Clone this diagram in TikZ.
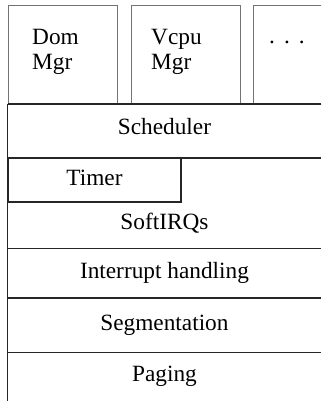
\documentclass[tikz,border=0pt]{standalone}
\usepackage{fontspec}
\setmainfont{Liberation Serif}
\begin{document}
\begin{tikzpicture}[
    x=1pt,y=-1pt,
    every node/.style={font=\fontsize{23.3}{25}\selectfont, inner sep=0pt},
    module/.style={draw=black!55, line width=1.1pt, minimum width=109pt, minimum height=99pt, anchor=north west},
    layer/.style={minimum width=313.5pt, text height=0.66em, text depth=0pt, anchor=north west},
    low/.style={text height=1.05em},
    edge/.style={draw=black!85, line width=1.5pt}
]
    \useasboundingbox (0,0) rectangle (321,401);
    \clip (0,0) rectangle (321,401);

    % modules on top
    \node[module] (dom) at (8,5) {};
    \node[module] (vcpu) at (131,5) {};
    \node[module] (more) at (253,5) {};
    \node[anchor=west, align=left] (domtxt) at ([xshift=24pt, yshift=3.5pt]dom.west) {Dom\\Mgr};
    \node[anchor=west, align=left] (vcputxt) at ([xshift=20pt, yshift=3.5pt]vcpu.west) {Vcpu\\Mgr};
    \node[anchor=base] (dots) at (287,44) {.\kern0.39em.\kern0.39em.};

    % layers
    \node[layer, minimum height=53.5pt] (sched) at (7.5,104) {Scheduler};
    \node[layer, low, minimum width=172.5pt, minimum height=43.5pt, edge] (timer) at (7.5,157.5) {Timer};
    \node[layer, low, minimum height=47pt] (softirq) at (7.5,201) {SoftIRQs};
    \node[layer, low, minimum height=49.5pt] (irq) at (7.5,248) {Interrupt handling};
    \node[layer, low, minimum height=54.5pt] (seg) at (7.5,297.5) {Segmentation};
    \node[layer, low, minimum height=49pt] (paging) at (7.5,352) {Paging};

    \draw[edge] (sched.north west) -- (sched.north east);
    \draw[edge] (sched.south west) -- (sched.south east);
    \draw[edge] (softirq.south west) -- (softirq.south east);
    \draw[edge] (irq.south west) -- (irq.south east);
    \draw[edge] (seg.south west) -- (seg.south east);
    \draw[edge] (sched.north west) -- (paging.south west);
\end{tikzpicture}
\end{document}
